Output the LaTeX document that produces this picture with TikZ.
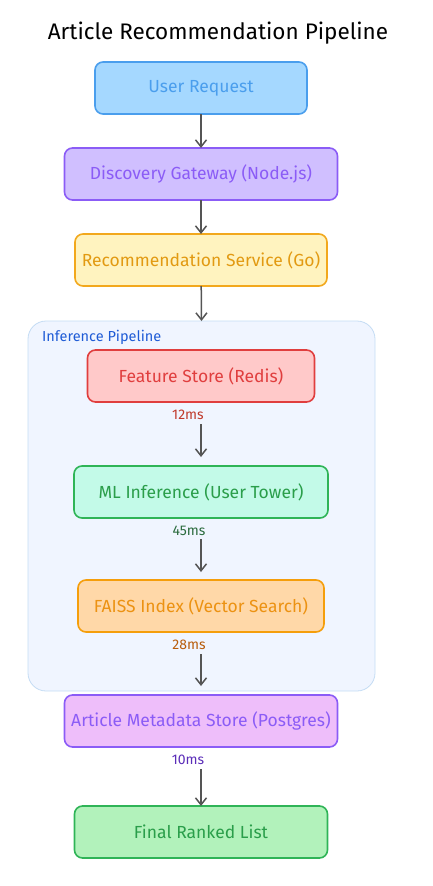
\documentclass[tikz,border=0pt]{standalone}
\usepackage{fontspec}
\setmainfont{Fira Sans}
\usetikzlibrary{positioning,fit,calc,arrows.meta,backgrounds}
\definecolor{arrowgray}{HTML}{555555}
\definecolor{userfill}{HTML}{A5D8FF}\definecolor{userline}{HTML}{4A9EED}
\definecolor{discfill}{HTML}{D0BFFF}\definecolor{discline}{HTML}{8B5CF6}
\definecolor{recfill}{HTML}{FFF3BF}\definecolor{recline}{HTML}{F2A81D}\definecolor{rectext}{HTML}{E29A12}
\definecolor{featfill}{HTML}{FFC9C9}\definecolor{featline}{HTML}{E03E3E}
\definecolor{mlfill}{HTML}{C3FAE8}\definecolor{mlline}{HTML}{2FB457}\definecolor{mltext}{HTML}{2A9E4A}
\definecolor{faissfill}{HTML}{FFD8A8}\definecolor{faissline}{HTML}{F59E0B}\definecolor{faisstext}{HTML}{EC9212}
\definecolor{metafill}{HTML}{EEBEFA}\definecolor{metaline}{HTML}{8B5CF6}
\definecolor{finalfill}{HTML}{B2F2BB}\definecolor{finalline}{HTML}{2FB457}
\definecolor{groupfill}{HTML}{F0F5FF}\definecolor{groupline}{HTML}{C4DCF4}\definecolor{grouptext}{HTML}{1E5BD6}
\definecolor{lblred}{HTML}{C0392B}\definecolor{lblgreen}{HTML}{2B6B3E}
\definecolor{lblorange}{HTML}{B85C0B}\definecolor{lblviolet}{HTML}{5B2DB8}
\begin{document}
\begin{tikzpicture}[x=1pt,y=1pt,
  stage/.style={rounded corners=8pt, line width=1.6pt, minimum height=52pt,
    inner sep=0pt, outer sep=0pt, font=\fontsize{17.5}{20}\selectfont},
  latency/.style={font=\fontsize{14}{16}\selectfont, inner sep=1pt},
  flow/.style={arrowgray, line width=1.5pt, -{Straight Barb[length=7pt,width=11pt]}},
  node distance=34pt]
  \useasboundingbox (0,0) rectangle (432,-886);
  \node (title) at (218,-33) {\fontsize{22.5}{26}\selectfont Article Recommendation Pipeline};
  \node [stage, minimum width=212pt, fill=userfill, draw=userline, text=userline] (user) at (201,-88) {User Request};
  \node [stage, minimum width=273pt, fill=discfill, draw=discline, text=discline, below=of user] (gateway) {Discovery Gateway (Node.js)};
  \node [stage, minimum width=252pt, fill=recfill, draw=recline, text=rectext, below=of gateway] (recsvc) {Recommendation Service (Go)};
  \node [stage, minimum width=227pt, fill=featfill, draw=featline, text=featline, below=64pt of recsvc] (features) {Feature Store (Redis)};
  \node [stage, minimum width=254pt, fill=mlfill, draw=mlline, text=mltext, below=64pt of features] (mlinfer) {ML Inference (User Tower)};
  \node [stage, minimum width=246pt, fill=faissfill, draw=faissline, text=faisstext, below=62pt of mlinfer] (faiss) {FAISS Index (Vector Search)};
  \node [stage, minimum width=273pt, fill=metafill, draw=metaline, text=metaline, below=63pt of faiss] (metadata) {Article Metadata Store (Postgres)};
  \node [stage, minimum width=253pt, fill=finalfill, draw=finalline, text=mltext, below=59pt of metadata] (ranked) {Final Ranked List};
  \begin{scope}[on background layer]
    \node [fit={($(features.north)+(-173,29)$) ($(faiss.south)+(174,-59)$)}, inner sep=0pt, outer sep=0pt,
      rounded corners=18pt, fill=groupfill, draw=groupline, line width=0.8pt] (pipeline) {};
  \end{scope}
  \node [anchor=west, text=grouptext, font=\fontsize{14.5}{16}\selectfont, inner sep=0pt]
    (pipelabel) at ($(pipeline.north west)+(14,-16)$) {Inference Pipeline};
  % latency labels
  \node [latency, text=lblred] (lat1) at ($(features.south)+(-13,-13)$) {12ms};
  \node [latency, text=lblgreen] (lat2) at ($(mlinfer.south)+(-12,-13)$) {45ms};
  \node [latency, text=lblorange] (lat3) at ($(faiss.south)+(-12,-13)$) {28ms};
  \node [latency, text=lblviolet] (lat4) at ($(metadata.south)+(-13,-13)$) {10ms};
  \draw [flow] (user) -- (gateway);
  \draw [flow] (gateway) -- (recsvc);
  \draw [flow] (recsvc) -- (pipeline.north);
  \draw [flow] ([yshift=-22pt]features.south) -- ([yshift=9pt]mlinfer.north);
  \draw [flow] ([yshift=-21pt]mlinfer.south) -- ([yshift=8pt]faiss.north);
  \draw [flow] ([yshift=-22pt]faiss.south) -- ([yshift=9pt]metadata.north);
  \draw [flow] ([yshift=-22pt]metadata.south) -- (ranked.north);
\end{tikzpicture}
\end{document}
